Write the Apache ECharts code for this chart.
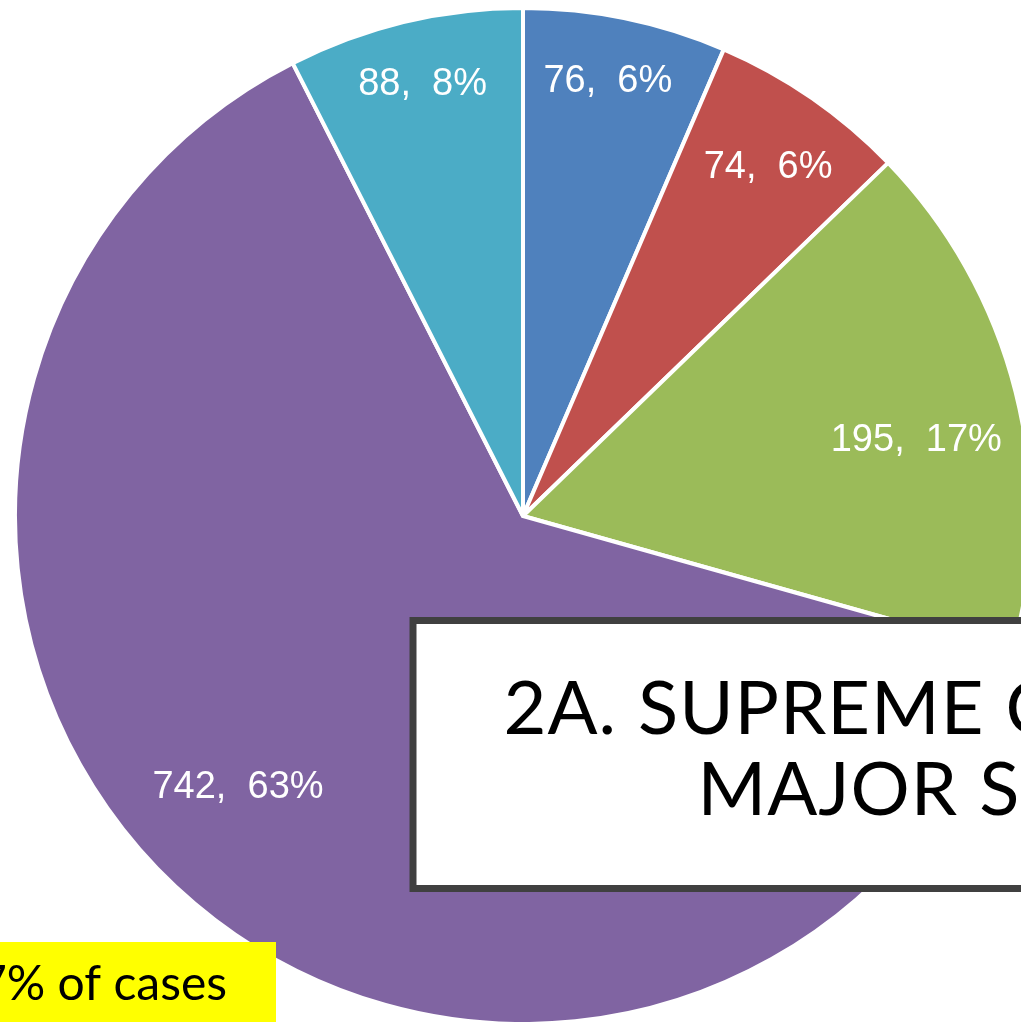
<!DOCTYPE html>
<html lang="en">
<head>
    <meta charset="UTF-8">
    <title>2A. Supreme Court - major subjects</title>
    <script src="https://cdn.jsdelivr.net/npm/echarts@6.0.0/dist/echarts.min.js"></script>
    <style>
        html, body { margin: 0; padding: 0; background: #ffffff; }
        #chart { width: 1021px; height: 1022px; }
    </style>
</head>
<body>
    <div id="chart"></div>
    <script>
        // slice values, clockwise from 12 o'clock
        const values = [76, 74, 195, 742, 88];
        // percentages as printed on the slide
        const percents = [6, 6, 17, 63, 8];
        const colors = ['#4F81BD', '#C0504D', '#9BBB59', '#8064A2', '#4BACC6'];

        const titleLines = ['2A. SUPREME COURT', 'MAJOR SUBJECTS'];
        const noteText = '7% of cases';

        // pie geometry (px)
        const cx = 523, cy = 516, R = 508;
        // where each label sits: fraction of radius, and turn from the slice mid-angle (deg)
        const labelRadius = [0.88, 0.845, 0.79, 0.77, 0.88];
        const labelTurn = [-0.7, 0.2, 2.7, 7.4, 0.5];

        const total = values.reduce((a, b) => a + b, 0);
        const midAngles = [];
        let acc = 0;
        values.forEach(v => {
            midAngles.push((acc + v / 2) / total * 360);
            acc += v;
        });

        // spaced-out title text (the slide font is tracked wider than Lato)
        function tracked(str) {
            return str.split('').map(ch => ch === ' ' ? '{s| }' : '{c|' + ch + '}').join('');
        }
        const titleRich = {
            c: { fontFamily: 'Lato, sans-serif', fontSize: 74, color: '#262626', padding: [0, 0.5, 0, 0.5] },
            s: { fontFamily: 'Lato, sans-serif', fontSize: 74, color: '#262626', width: 21 }
        };

        let chart = echarts.init(document.getElementById('chart'));

        let option = {
            backgroundColor: '#ffffff',
            animation: false,
            series: [{
                type: 'pie',
                center: [cx, cy],
                radius: R,
                startAngle: 90,
                clockwise: true,
                silent: true,
                data: values.map((v, i) => ({
                    value: v,
                    itemStyle: { color: colors[i] }
                })),
                itemStyle: { borderColor: '#ffffff', borderWidth: 4 },
                label: {
                    position: 'inside',
                    color: '#ffffff',
                    fontFamily: 'Liberation Sans, Arial, sans-serif',
                    fontSize: 38,
                    formatter: p => p.value + ',  ' + percents[p.dataIndex] + '%'
                },
                labelLine: { show: false },
                labelLayout: function (params) {
                    const i = params.dataIndex;
                    const a = (midAngles[i] + labelTurn[i]) * Math.PI / 180;
                    const r = R * labelRadius[i];
                    return {
                        x: cx + r * Math.sin(a),
                        y: cy - r * Math.cos(a) + 4,
                        align: 'center',
                        verticalAlign: 'middle'
                    };
                }
            }],
            graphic: [
                {
                    type: 'rect',
                    shape: { x: 413, y: 620.5, width: 700, height: 268 },
                    style: { fill: '#ffffff', stroke: '#404040', lineWidth: 7 },
                    z: 100
                },
                {
                    type: 'text',
                    x: 503, y: 747,
                    style: {
                        text: tracked(titleLines[0]),
                        rich: titleRich,
                        textAlign: 'left',
                        textVerticalAlign: 'bottom'
                    },
                    z: 101
                },
                {
                    type: 'text',
                    x: 697, y: 828,
                    style: {
                        text: tracked(titleLines[1]),
                        rich: titleRich,
                        textAlign: 'left',
                        textVerticalAlign: 'bottom'
                    },
                    z: 101
                },
                {
                    type: 'rect',
                    shape: { x: 0, y: 942, width: 276, height: 82 },
                    style: { fill: '#FFFF00' },
                    z: 100
                },
                {
                    type: 'text',
                    x: -21, y: 1009,
                    style: {
                        text: noteText,
                        fill: '#000000',
                        font: '48px Lato, sans-serif',
                        textAlign: 'left',
                        textVerticalAlign: 'bottom'
                    },
                    z: 101
                }
            ]
        };
        chart.setOption(option);
    </script>
</body>
</html>
